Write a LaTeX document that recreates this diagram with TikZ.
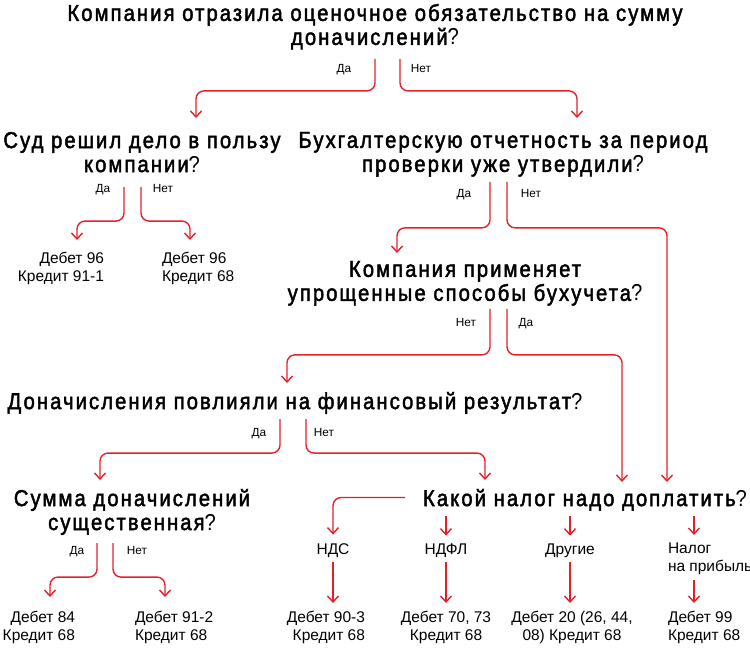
\documentclass[tikz,border=0pt]{standalone}
\usepackage{fontspec}
\setmainfont{Liberation Sans}
\newfontfamily\headfont{Liberation Sans}[FakeStretch=0.88,LetterSpace=9,FakeBold=2]
\newfontfamily\markfont{Liberation Sans}[FakeStretch=0.88]
\usepackage{tikz}
\usetikzlibrary{calc}
\usetikzlibrary{arrows.meta}
\definecolor{flowred}{HTML}{E32028}
\newcommand{\qm}{{\markfont ?}}
\tikzset{
  link/.style={draw=flowred, line width=1.4pt, rounded corners=8pt,
    -{Straight Barb[length=6pt,width=11pt]}},
  flat/.style={inner sep=0pt, outer sep=0pt, text depth=0pt}
}
\newcommand{\quest}[4]{\node[flat,anchor=north,align=center,font=\headfont\fontsize{23}{24}\selectfont] (#1) at ( #2 , #3 ) {#4};}
\newcommand{\reply}[4]{\node[flat,font=\fontsize{11.8}{12}\selectfont] (#1) at ( #2 , #3 ) {#4};}
\newcommand{\entry}[6]{\node[flat,anchor=#4,align=#5,font=\fontsize{15.5}{18}\selectfont] (#1) at ( #2 , #3 ) {#6};}

\begin{document}
\begin{tikzpicture}[x=1pt,y=1pt]
\useasboundingbox (0,0) rectangle (750,-650);
% questions
\quest{top}{375}{-4}{Компания отразила оценочное обязательство на сумму\\доначислений\qm}
\quest{court}{142}{-132}{Суд решил дело в пользу\\компании\qm}
\quest{report}{503}{-132}{Бухгалтерскую отчетность за период\\проверки уже утвердили\qm}
\quest{simp}{465}{-261}{Компания применяет\\упрощенные способы бухучета\qm}
\quest{result}{295}{-392}{Доначисления повлияли на финансовый результат\qm}
\quest{sum}{132}{-489}{Сумма доначислений\\существенная\qm}
\quest{tax}{585}{-489}{Какой налог надо доплатить\qm}
% yes / no labels
\reply{topYes}{344}{-68}{Да}
\reply{topNo}{421}{-68}{Нет}
\reply{courtYes}{103}{-188}{Да}
\reply{courtNo}{163}{-188}{Нет}
\reply{repYes}{464}{-193}{Да}
\reply{repNo}{531}{-193}{Нет}
\reply{simpNo}{466}{-322}{Нет}
\reply{simpYes}{526}{-322}{Да}
\reply{resYes}{259}{-432}{Да}
\reply{resNo}{324}{-432}{Нет}
\reply{sumYes}{77}{-550}{Да}
\reply{sumNo}{137}{-550}{Нет}
% taxes
\entry{nds}{333}{-549}{center}{center}{НДС}
\entry{ndfl}{446}{-549}{center}{center}{НДФЛ}
\entry{other}{570}{-549}{center}{center}{Другие}
\entry{profit}{668}{-543}{north west}{left}{Налог\\на прибыль}
% postings
\entry{postA}{104}{-252}{north east}{right}{Дебет 96\\Кредит 91-1}
\entry{postB}{162}{-252}{north west}{left}{Дебет 96\\Кредит 68}
\entry{postC}{75}{-611}{north east}{right}{Дебет 84\\Кредит 68}
\entry{postD}{135}{-611}{north west}{left}{Дебет 91-2\\Кредит 68}
\entry{postE}{365}{-611}{north east}{right}{Дебет 90-3\\Кредит 68}
\entry{postF}{446}{-611}{north}{center}{Дебет 70, 73\\Кредит 68}
\entry{postG}{572}{-611}{north}{center}{Дебет 20 (26, 44,\\08) Кредит 68}
\entry{postH}{668}{-611}{north west}{left}{Дебет 99\\Кредит 68}
% connectors
\draw[link] ([yshift=-14pt]top.south) -- ++(0,-32) -| ([xshift=54pt,yshift=14pt]court.north);
\draw[link] ([xshift=25pt,yshift=-14pt]top.south) -- ++(0,-32) -| ([xshift=74pt,yshift=14pt]report.north);
\draw[link] ([xshift=-18pt,yshift=-15pt]court.south) -- ++(0,-34) -| ([xshift=-27pt,yshift=12pt]postA.north east);
\draw[link] ([xshift=-1pt,yshift=-15pt]court.south) -- ++(0,-34) -| ([xshift=28pt,yshift=12pt]postB.north west);
\draw[link] ([xshift=-13pt,yshift=-10pt]report.south) -- ++(0,-46) -| ([xshift=-68pt,yshift=8pt]simp.north);
\draw[link] ([xshift=4pt,yshift=-10pt]report.south) -- ++(0,-46) -| ([xshift=82pt,yshift=7pt]tax.north);
\draw[link] ([xshift=25pt,yshift=-8pt]simp.south) -- ++(0,-46) -| ([xshift=-8pt,yshift=9pt]result.north);
\draw[link] ([xshift=42pt,yshift=-8pt]simp.south) -- ++(0,-46) -| ([xshift=37pt,yshift=7pt]tax.north);
\draw[link] ([xshift=-15pt,yshift=-10pt]result.south) -- ++(0,-34) -| ([xshift=-32pt,yshift=9pt]sum.north);
\draw[link] ([xshift=11pt,yshift=-10pt]result.south) -- ++(0,-34) -| ([xshift=-100pt,yshift=9pt]tax.north);
\draw[link] ([xshift=-35pt,yshift=-13pt]sum.south) -- ++(0,-34) -| ([xshift=-25pt,yshift=14pt]postC.north east);
\draw[link] ([xshift=-19pt,yshift=-13pt]sum.south) -- ++(0,-34) -| ([xshift=30pt,yshift=14pt]postD.north west);
\draw[link] ([xshift=-18pt]tax.west) -| ([yshift=9pt]nds.north);
\draw[link] ([yshift=-10pt]tax.south -| ndfl.north) -- ([yshift=8pt]ndfl.north);
\draw[link] ([yshift=-10pt]tax.south -| other.north) -- ([yshift=8pt]other.north);
\draw[link] ([xshift=26pt,yshift=-10pt]tax.south -| profit.west) -- ([xshift=26pt,yshift=8pt]profit.north west);
\draw[link] ([yshift=-8pt]nds.south) -- ([yshift=8pt]nds.south |- postE.north);
\draw[link] ([yshift=-8pt]ndfl.south) -- ([yshift=8pt]postF.north);
\draw[link] ([yshift=-8pt]other.south) -- ([yshift=8pt]other.south |- postG.north);
\draw[link] ([xshift=26pt,yshift=-8pt]profit.south west) -- ([xshift=26pt,yshift=8pt]postH.north west);
\end{tikzpicture}
\end{document}
